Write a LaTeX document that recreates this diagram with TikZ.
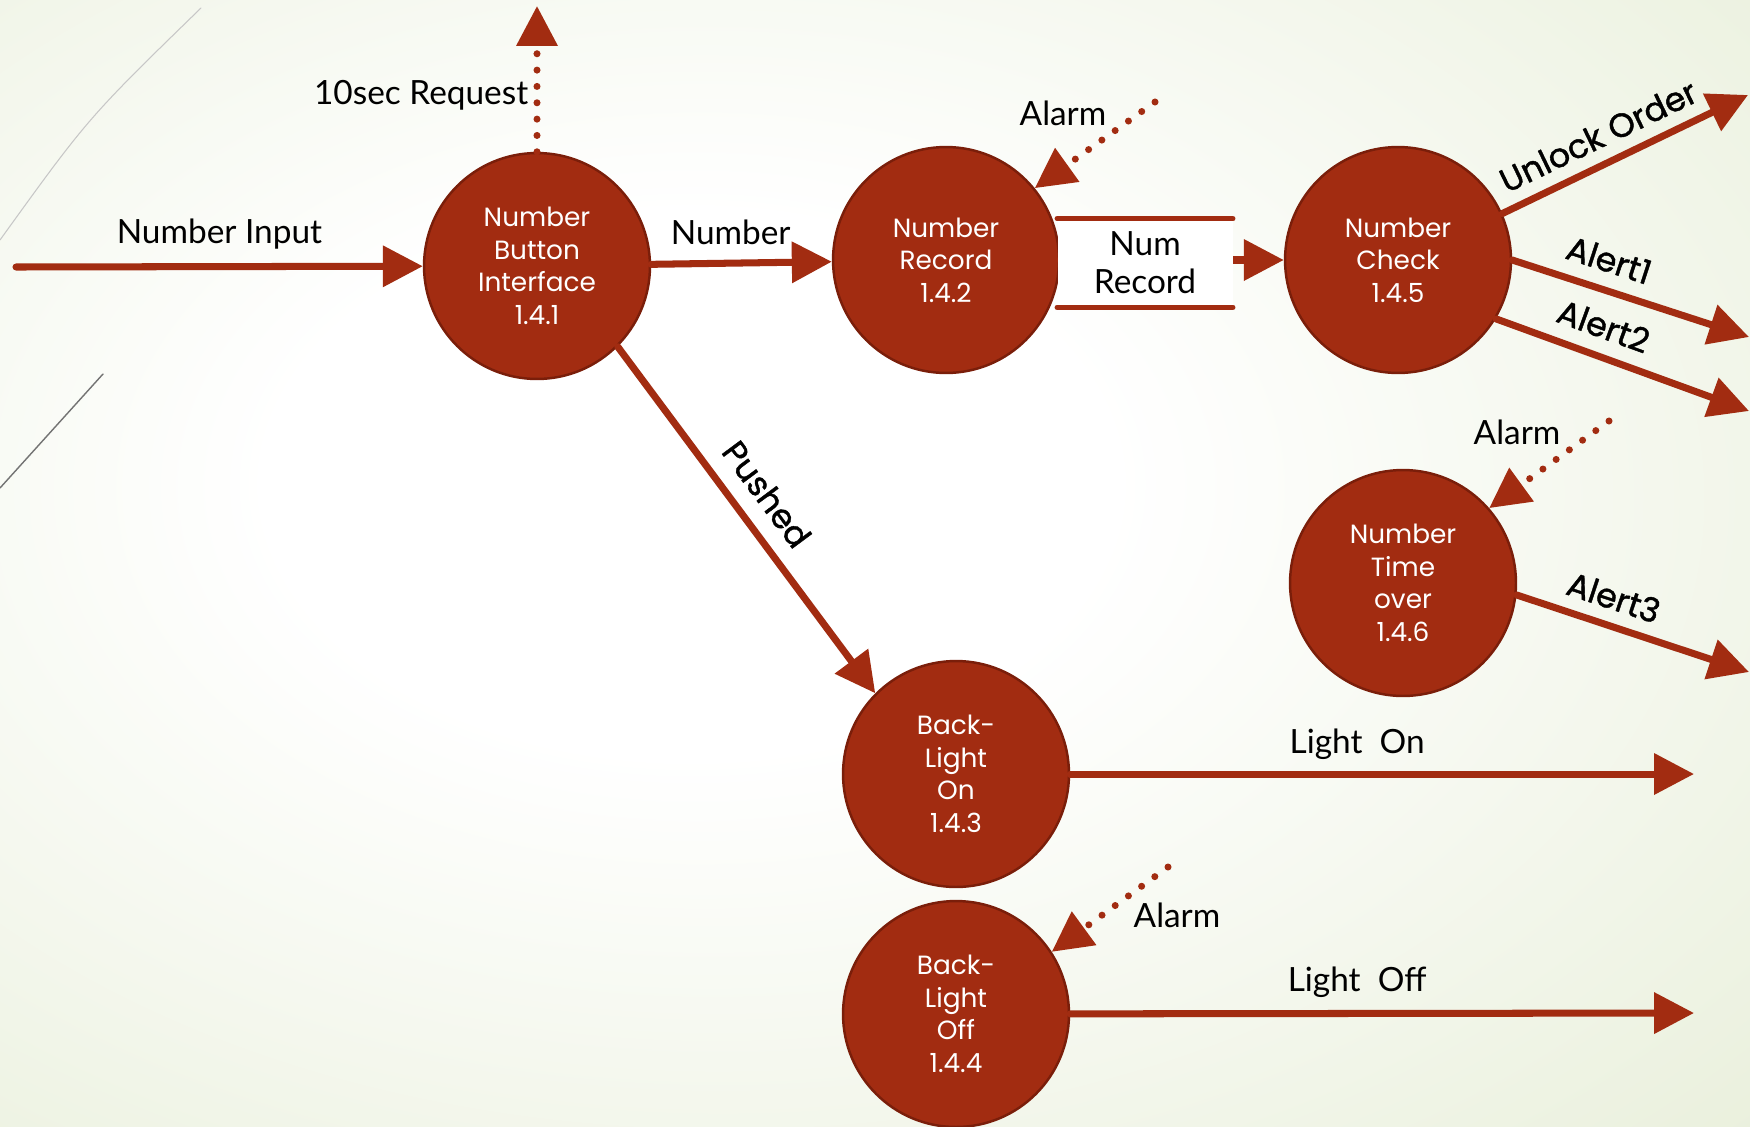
\documentclass[tikz,border=0pt]{standalone}
\usepackage{fontspec}
\setmainfont{Lato}
\newfontfamily\gothic{Poppins}
\newfontfamily\gothicb{Poppins}[FakeBold=1.2]
\usetikzlibrary{arrows.meta}
\definecolor{brick}{RGB}{162,44,17}
\definecolor{brickdark}{RGB}{122,30,10}
\definecolor{sagelight}{RGB}{231,238,216}
\definecolor{sage}{RGB}{222,232,202}
\pgfdeclareradialshading{paper}{\pgfpoint{-6bp}{4bp}}{color(0bp)=(white); color(12bp)=(white); color(44bp)=(sagelight); color(70bp)=(sage); color(100bp)=(sage)}
\begin{document}
\begin{tikzpicture}[x=0.02cm, y=-0.02cm, line join=round, line cap=round, >={Triangle[length=8mm,width=8mm]},
	proc/.style={circle, fill=brick, draw=brickdark, line width=1.4pt, minimum size=4.52cm, inner sep=0pt, text=white, align=center, font=\gothic\fontsize{15}{18.5}\selectfont},
	flow/.style={->, brick, line width=4pt},
	ctrl/.style={->, brick, line width=4pt, dash pattern=on 0pt off 9.3pt},
	lbl/.style={text=black, inner sep=0pt, align=center, font=\fontsize{19}{21.5}\selectfont},
	tag/.style={text=black, inner sep=0pt, sloped, font=\gothicb\fontsize{19}{22}\selectfont}]
	\useasboundingbox (0,0) rectangle (1750,1126);
	\shade[shading=paper] (0,0) rectangle (1750,1126);
	\draw[black!22, line width=.6pt] (0,240) .. controls (88,118) .. (201,8);
	\draw[black!55, line width=.8pt] (0,488) -- (103,374);
	% processes
	\node[proc] (bni) at (537,266) {Number\\Button\\Interface\\1.4.1};
	\node[proc] (rec) at (946,260) {Number\\Record\\1.4.2};
	\node[proc] (chk) at (1398,260) {Number\\Check\\1.4.5};
	\node[proc] (tmo) at (1403,583) {Number\\Time\\over\\1.4.6};
	\node[proc] (lon) at (956,774) {Back-\\Light\\On\\1.4.3};
	\node[proc] (loff) at (956,1014) {Back-\\Light\\Off\\1.4.4};
	% free ends
	\coordinate (inp) at (16,267);  \coordinate (req) at (537,6);
	\coordinate (uo) at (1748,95);  \coordinate (al1) at (1749,337);
	\coordinate (al2) at (1749,411); \coordinate (al3) at (1749,672);
	\coordinate (lo) at (1694,774); \coordinate (lf) at (1694,1013);
	\coordinate (a1) at (1155,102); \coordinate (a2) at (1609,421); \coordinate (a3) at (1168,867);
	% flows
	\draw[flow] (inp) -- node[lbl, above=8pt]{Number Input} (bni);
	\draw[ctrl] (bni) -- node[lbl, left=3pt, pos=.39]{10sec Request} (req);
	\draw[flow] (bni) -- node[lbl, above=8.5pt, pos=.44]{Number} (rec);
	\draw[flow] (rec) -- (chk);
	\node[lbl, fill=white, minimum width=3.5cm, minimum height=1.76cm] (store) at (1145,263) {Num\\Record};
	\draw[brick, line width=3pt] (store.north west) -- (store.north east) (store.south west) -- (store.south east);
	\draw[flow] (bni.-45) -- node[tag, above=9pt, pos=.48]{Pushed} (lon.135);
	\draw[flow] (chk.24) -- node[tag, above=7pt, pos=.44]{Unlock Order} (uo);
	\draw[flow] (chk.east) -- node[tag, above=8pt, pos=.37]{Alert1} (al1);
	\draw[flow] (chk.-31) -- node[tag, above=8pt, pos=.385]{Alert2} (al2);
	\draw[flow] (tmo.-6) -- node[tag, above=7pt, pos=.38]{Alert3} (al3);
	\draw[flow] (lon) -- node[lbl, above=6pt, pos=.46]{Light~~On} (lo);
	\draw[flow] (loff) -- node[lbl, above=7pt, pos=.46]{Light~~Off} (lf);
	% alarms
	\foreach \s/\t in {a1/rec.39, a2/tmo.41, a3/loff.33} \draw[ctrl] (\s) -- (\t);
	\node[lbl] (alm1) at (1063,113) {Alarm};
	\node[lbl] (alm2) at (1517,432) {Alarm};
	\node[lbl] (alm3) at (1177,915) {Alarm};
\end{tikzpicture}
\end{document}
